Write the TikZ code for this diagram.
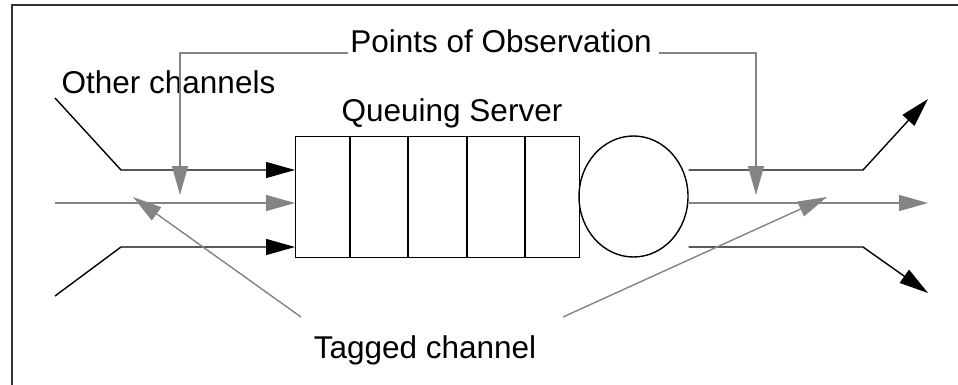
\documentclass[tikz,border=0pt]{standalone}
\usepackage{fontspec}
\setmainfont{Liberation Sans}
\usetikzlibrary{arrows.meta,shapes.geometric}
\definecolor{obsgray}{HTML}{848484}
\definecolor{framegray}{HTML}{333333}
\begin{document}
\begin{tikzpicture}[x=1pt,y=-1pt,
  blk/.style={line width=1.4pt, draw=black},
  gry/.style={line width=1.4pt, draw=obsgray},
  tipb/.style={-{Triangle[length=29pt,width=16pt]}},
  lbl/.style={font=\fontsize{31.5}{36}\selectfont, inner sep=0pt, anchor=base}]
\useasboundingbox (0,0) rectangle (958,385);
\draw[line width=2.4pt, framegray] (12,386) -- (12,5) -- (959,5);
% queue and server
\node[blk, minimum width=284pt, minimum height=121pt, inner sep=0pt, anchor=north west] (q) at (295,136) {};
\foreach \xx in {350,408,467,525} \draw[blk] (\xx,136) -- (\xx,257);
\node[blk, ellipse, minimum width=109pt, minimum height=121pt, inner sep=0pt] (s) at (633.5,196.5) {};
% labels
\node[lbl] (obs) at (501,53) {Points of Observation};
\node[lbl] (oth) at (168.5,94) {Other channels};
\node[lbl] (qs) at (452,122) {Queuing Server};
\node[lbl] (tag) at (425,358) {Tagged channel};
% input channels
\coordinate (i1) at (55,98);  \coordinate (b1) at (121,170);
\coordinate (i2) at (55,203);
\coordinate (i3) at (55,296); \coordinate (b3) at (121,247);
\draw[blk,tipb] (i1) -- (b1) -- (q.west |- b1);
\draw[gry,tipb] (i2) -- (q.west |- i2);
\draw[blk,tipb] (i3) -- (b3) -- (q.west |- b3);
% output channels
\coordinate (o1) at (863,170); \coordinate (t1) at (928,99);
\coordinate (t2) at (928,203);
\coordinate (o3) at (863,247); \coordinate (t3) at (928,293);
\draw[blk,tipb] (s.east |- o1) -- (o1) -- (t1);
\draw[gry,tipb] (s.east |- t2) -- (t2);
\draw[blk,tipb] (s.east |- o3) -- (o3) -- (t3);
% points of observation
\coordinate (p1) at (180,195);
\coordinate (p2) at (756,195);
\draw[gry,tipb] ([xshift=-2pt]obs.base west) -| (p1);
\draw[gry,tipb] ([xshift=7pt]obs.base east) -| (p2);
% tagged channel pointers
\coordinate (g1) at (301,317); \coordinate (h1) at (133,197);
\coordinate (g2) at (563,317); \coordinate (h2) at (827,197);
\draw[gry,tipb] (g1) -- (h1);
\draw[gry,tipb] (g2) -- (h2);
\end{tikzpicture}
\end{document}
